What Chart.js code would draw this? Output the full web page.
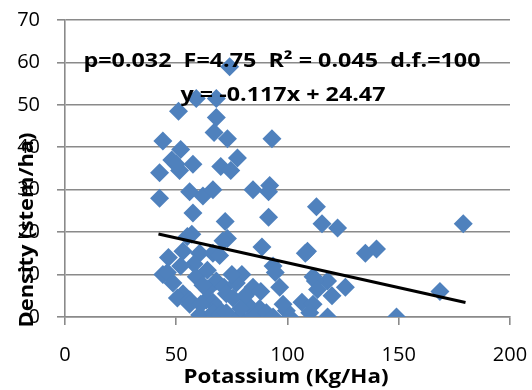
<!DOCTYPE html>
<html>
<head>
<meta charset="utf-8">
<script src="https://cdn.jsdelivr.net/npm/chart.js@4/dist/chart.umd.min.js"></script>
<style>
html,body{margin:0;padding:0;background:#fff;}
#wrap{width:532px;height:390px;position:relative;}
</style>
</head>
<body>
<div id="wrap"><canvas id="c" width="532" height="390"></canvas></div>
<script>
// Potassium (Kg/Ha) values
const potassium = [74,51,59,68,68,67,73,44,93,52,48,57.5,51.5,42.5,50,70,77.5,74.5,56,62,66.5,84.5,92,91.5,42.5,57.5,72,91.5,113,115.5,122.5,179,57,73,71,55,109,135,140,88.5,53,46.5,60.5,66.5,69.5,108,58,93.5,94.5,79.5,44,46,48.5,59,68,84.5,96.5,71.5,111.5,118,112.5,113.5,120,126,168.5,53,50.5,56,63.5,64,72.5,75.5,66.5,56,106.5,111.5,68,87.5,99.5,60.5,66.5,69.5,72.5,78.5,84.5,90.5,93.5,101,118,149,110,62,77,82,75,52,64,81,88,98,79,61];
// Density (stem/ha) values
const density = [59,48.5,51.5,51.5,47,43.5,42,41.5,42,39.5,37,36,34.5,34,36,35.5,37.5,34.5,29.5,28.5,30,30,31,29.5,28,24.5,22.5,23.5,26,22,21,22,19.5,18.5,18,19,15.5,15,16,16.5,15.5,14,15,15,14.5,15,12.5,12,10.5,10,10,10.5,8,9.5,8.5,7,7,7,9.5,8.5,8.5,6.5,5,7,6,5.5,4.5,4,4,6.5,5.5,4.5,3.5,3,3.5,3,2.5,2,1.5,0.5,1,0.5,1,0,0.5,1,0,0,0,0,1,7.5,8,3,10,12,11,5,6,3,2,3];
// Linear trendline endpoints (y = -0.117x + 24.47)
const trendX = [42, 180];
const trendY = [19.55, 3.41];
const xTicks = [0, 50, 100, 150, 200];
const yTicks = [0, 10, 20, 30, 40, 50, 60, 70];
const statsLine = 'p=0.032  F=4.75  R\u00B2 = 0.045  d.f.=100';
const eqLine = 'y = -0.117x + 24.47';
const xTitle = 'Potassium (Kg/Ha)';
const yTitle = 'Density (stem/ha)';

const TICKFONT = '"Open Sans", Lato, sans-serif';
const BOLDFONT = '"Open Sans", Lato, sans-serif';
const GRID = '#8a8a8a';

const points = potassium.map((x, i) => ({x: x, y: density[i]}));
const trend = trendX.map((x, i) => ({x: x, y: trendY[i]}));

function fitText(ctx, text, cx, cy, width) {
  const w = ctx.measureText(text).width;
  ctx.save();
  ctx.translate(cx, cy);
  ctx.scale(width / w, 1);
  ctx.fillText(text, 0, 0);
  ctx.restore();
}

const textPlugin = {
  id: 'texts',
  afterDraw(chart) {
    const ctx = chart.ctx;
    ctx.save();
    ctx.fillStyle = '#000';
    ctx.font = 'bold 20px ' + BOLDFONT;
    ctx.textAlign = 'center';
    ctx.textBaseline = 'middle';
    fitText(ctx, statsLine, 282, 61, 397);
    fitText(ctx, eqLine, 283, 95, 205);
    fitText(ctx, xTitle, 286, 377, 205);
    ctx.translate(27, 230);
    ctx.rotate(-Math.PI / 2);
    fitText(ctx, yTitle, 0, 0, 195);
    ctx.restore();
  }
};

new Chart(document.getElementById('c'), {
  type: 'scatter',
  data: {
    datasets: [
      {
        data: trend,
        type: 'line',
        showLine: true,
        borderColor: '#000',
        borderWidth: 3,
        pointRadius: 0,
        fill: false,
        order: 0
      },
      {
        data: points,
        pointStyle: 'rectRot',
        pointRadius: 9.5,
        pointBackgroundColor: '#4F81BD',
        pointBorderColor: '#4F81BD',
        pointBorderWidth: 0,
        order: 1
      }
    ]
  },
  options: {
    responsive: false,
    animation: false,
    devicePixelRatio: 1,
    layout: {padding: {top: 20, right: 22, left: 0, bottom: 0}},
    plugins: {legend: {display: false}, tooltip: {enabled: false}},
    scales: {
      x: {
        type: 'linear',
        min: 0, max: 200,
        afterBuildTicks(s) { s.ticks = xTicks.map(v => ({value: v})); },
        afterFit(s) { s.height = 73; s.paddingLeft = 0; s.paddingRight = 0; },
        grid: {drawOnChartArea: false, drawTicks: true, tickLength: 8, color: GRID, lineWidth: 1.6},
        border: {color: GRID, width: 1.6},
        ticks: {color: '#000', font: {family: TICKFONT, size: 20}, padding: 18, maxRotation: 0}
      },
      y: {
        type: 'linear',
        min: 0, max: 70,
        afterBuildTicks(s) { s.ticks = yTicks.map(v => ({value: v})); },
        afterFit(s) { s.width = 65; s.paddingTop = 0; s.paddingBottom = 0; },
        grid: {drawTicks: true, tickLength: 8, color: GRID, lineWidth: 1.6},
        border: {color: GRID, width: 1.6},
        ticks: {color: '#000', font: {family: TICKFONT, size: 20}, padding: 17}
      }
    }
  },
  plugins: [textPlugin]
});
</script>
</body>
</html>
